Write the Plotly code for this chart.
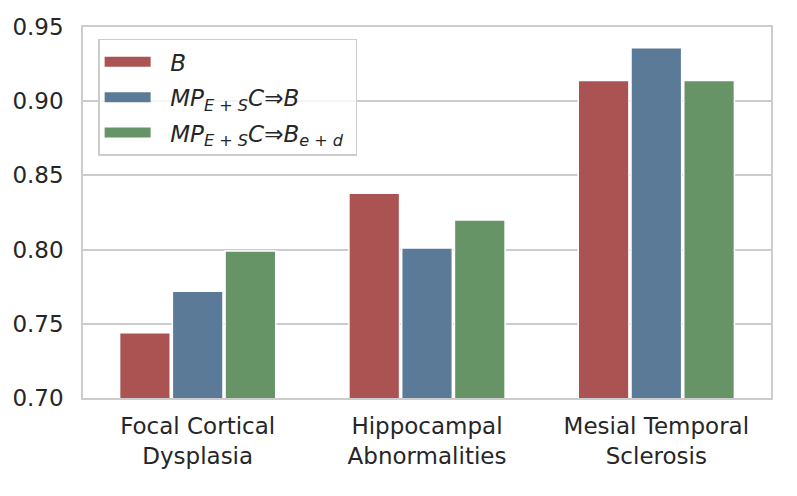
import plotly.graph_objects as go

categories = ["Focal Cortical<br>Dysplasia", "Hippocampal<br>Abnormalities", "Mesial Temporal<br>Sclerosis"]
series_names = ["<i>B</i>", "<i>MP<sub>E + S</sub>C⇒B</i>", "<i>MP<sub>E + S</sub>C⇒B<sub>e + d</sub></i>"]
vals_b = [0.744, 0.838, 0.914]
vals_mp = [0.772, 0.801, 0.936]
vals_mped = [0.799, 0.820, 0.914]
colors = ["#ab5253", "#5b7a98", "#679466"]
y_ticks = [0.70, 0.75, 0.80, 0.85, 0.90, 0.95]

FONT = "DejaVu Sans"
TXT = "#262626"
GRID = "#cccccc"
FS = 23

fig = go.Figure()
for i, (name, vals, col) in enumerate(zip(series_names, [vals_b, vals_mp, vals_mped], colors)):
    fig.add_trace(go.Bar(x=categories, y=vals, name=name,
                         marker=dict(color=col, line=dict(color="white", width=1.5)),
                         showlegend=False, legendgroup=f"g{i}"))
for i, (name, col) in enumerate(zip(series_names, colors)):
    fig.add_trace(go.Scatter(x=[None], y=[None], mode="lines",
                             name="&nbsp;&nbsp;" + name + "&nbsp;",
                             legendgroup=f"g{i}", line=dict(color=col, width=14)))

# page body has an 8px margin: figure is shifted by 8px right/down
fig.update_layout(
    width=789, height=488,
    margin=dict(l=75, r=26, t=19, b=98),
    paper_bgcolor="white", plot_bgcolor="white",
    font=dict(family=FONT, color=TXT, size=FS),
    barmode="group", bargap=0.31, bargroupgap=0.04,
    showlegend=True,
    legend=dict(x=0.022, y=0.968, xanchor="left", yanchor="top",
                bgcolor="rgba(255,255,255,0.8)", bordercolor=GRID, borderwidth=1.5,
                tracegroupgap=2.5, font=dict(family=FONT, size=FS, color=TXT), itemwidth=46),
    xaxis=dict(showgrid=False, showline=True, linecolor=GRID, linewidth=1.5, mirror=True,
               automargin=False, ticks="", ticklabelstandoff=7,
               tickfont=dict(size=FS, color=TXT), range=[-0.5, 2.5]),
    yaxis=dict(range=[0.70, 0.95], tickvals=y_ticks, tickformat=".2f", showgrid=True, gridcolor=GRID,
               gridwidth=1.5, showline=True, linecolor=GRID, linewidth=1.5, mirror=True, ticks="",
               automargin=False, ticklabelstandoff=13, zeroline=False,
               tickfont=dict(size=FS, color=TXT)),
)
fig.write_html("out.html")
